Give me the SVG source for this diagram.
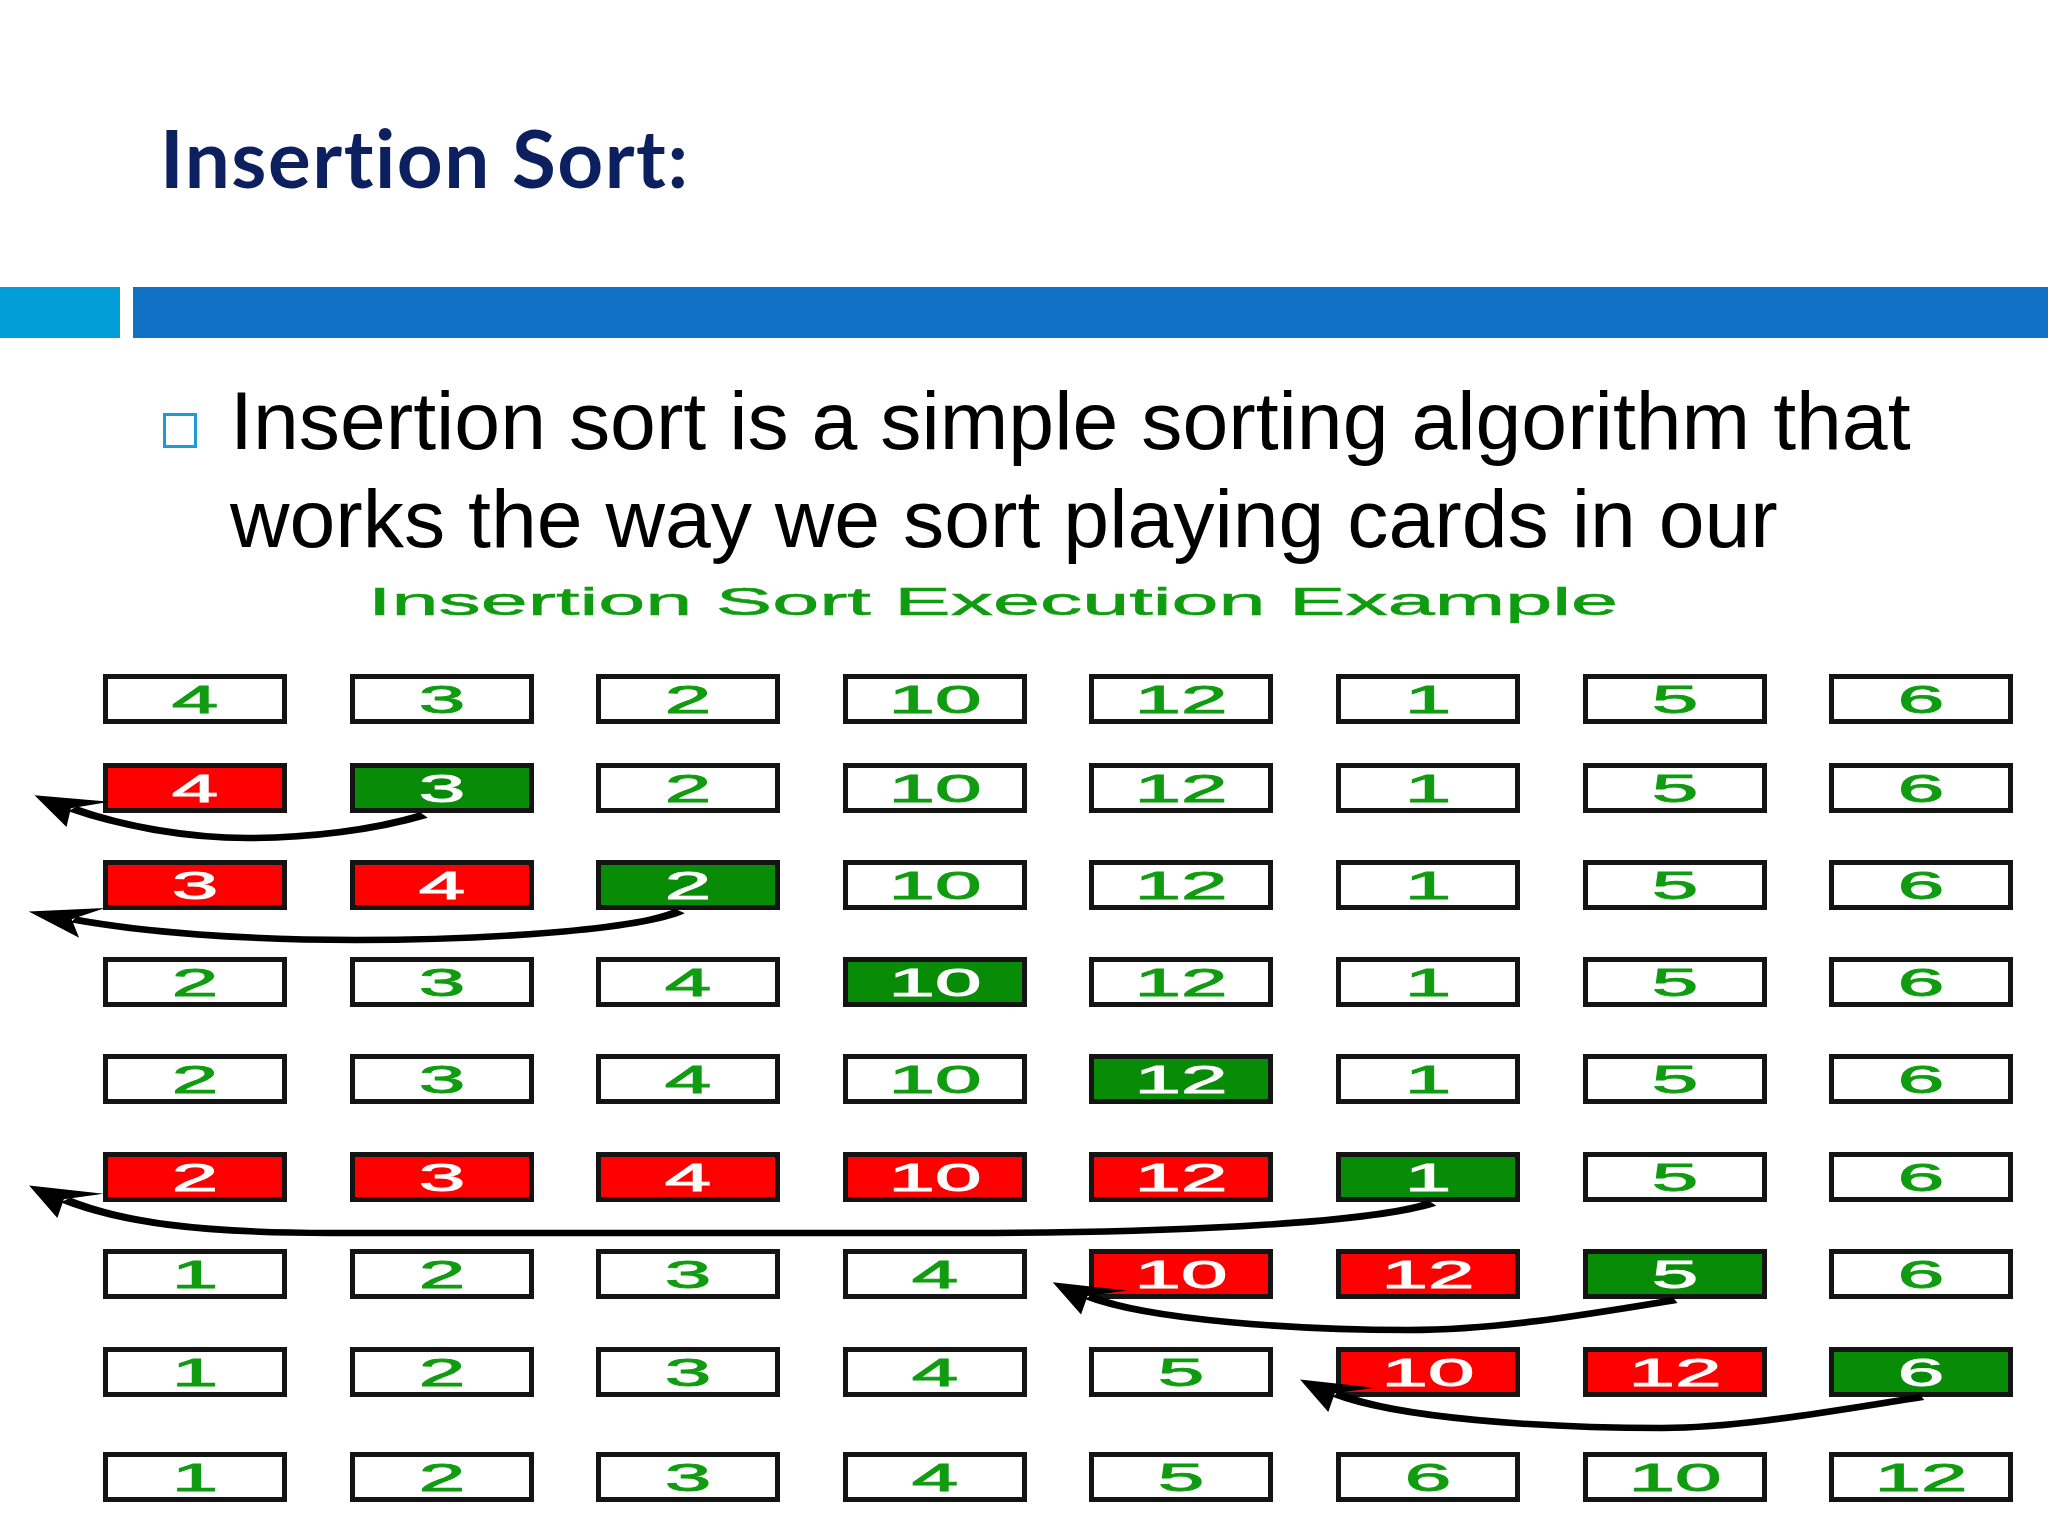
<svg xmlns="http://www.w3.org/2000/svg" width="2048" height="1536" viewBox="0 0 2048 1536">
<style>
.bx{stroke:#141414;stroke-width:5}
.wf{fill:#ffffff}
.rf{fill:#ff0000}
.gf{fill:#088c08}
.d{font-family:"Liberation Sans",Arial,sans-serif;font-size:38px;text-anchor:middle;stroke-width:0.9}
.gt{fill:#109c10;stroke:#109c10}
.wt{fill:#ffffff;stroke:#ffffff}
.arr{fill:none;stroke:#000;stroke-width:6.5}
</style>
<defs>
<marker id="ah" markerUnits="userSpaceOnUse" orient="auto" markerWidth="44" markerHeight="44" refX="0" refY="0" viewBox="-14 -22 44 44" overflow="visible">
<path d="M22,0 L-9,-16 L1,0 L-9,16 Z" fill="#000"/>
</marker>
</defs>
<rect width="2048" height="1536" fill="#ffffff"/>
<g id="title">
<text x="160" y="188" font-family="Lato,'Open Sans',sans-serif" font-weight="bold" font-size="80" fill="#0c1f5e" style="font-variant-ligatures:none" textLength="528" lengthAdjust="spacing">Insertion Sort:</text>
</g>
<g id="bars">
<rect x="0" y="287" width="120" height="51" fill="#009dd9"/>
<rect x="133" y="287" width="1915" height="51" fill="#1070c4"/>
</g>
<g id="bullet">
<rect x="164.5" y="414.5" width="31" height="32" fill="none" stroke="#1e9bd7" stroke-width="3"/>
<text x="230" y="449" font-family="'Liberation Sans',Arial,sans-serif" font-size="82.4" fill="#000">Insertion sort is a simple sorting algorithm that</text>
<text x="230" y="547" font-family="'Liberation Sans',Arial,sans-serif" font-size="82.4" fill="#000">works the way we sort playing cards in our</text>
</g>
<g id="subtitle">
<text x="368" y="615" font-family="'Liberation Sans',Arial,sans-serif" font-size="38" fill="#109c10" stroke="#109c10" stroke-width="0.5" textLength="1250" lengthAdjust="spacingAndGlyphs">Insertion Sort Execution Example</text>
</g>
<g id="nodes">
<!-- row 1 -->
<g id="r1c1"><rect class="bx wf" x="105.5" y="676.5" width="179" height="45"/><text class="d gt" transform="matrix(2.2 0 0 1 195 712.5)">4</text></g>
<g id="r1c2"><rect class="bx wf" x="352.5" y="676.5" width="179" height="45"/><text class="d gt" transform="matrix(2.2 0 0 1 442 712.5)">3</text></g>
<g id="r1c3"><rect class="bx wf" x="598.5" y="676.5" width="179" height="45"/><text class="d gt" transform="matrix(2.2 0 0 1 688 712.5)">2</text></g>
<g id="r1c4"><rect class="bx wf" x="845.5" y="676.5" width="179" height="45"/><text class="d gt" transform="matrix(2.2 0 0 1 935 712.5)">10</text></g>
<g id="r1c5"><rect class="bx wf" x="1091.5" y="676.5" width="179" height="45"/><text class="d gt" transform="matrix(2.2 0 0 1 1181 712.5)">12</text></g>
<g id="r1c6"><rect class="bx wf" x="1338.5" y="676.5" width="179" height="45"/><text class="d gt" transform="matrix(2.2 0 0 1 1428 712.5)">1</text></g>
<g id="r1c7"><rect class="bx wf" x="1585.5" y="676.5" width="179" height="45"/><text class="d gt" transform="matrix(2.2 0 0 1 1675 712.5)">5</text></g>
<g id="r1c8"><rect class="bx wf" x="1831.5" y="676.5" width="179" height="45"/><text class="d gt" transform="matrix(2.2 0 0 1 1921 712.5)">6</text></g>
<!-- row 2 -->
<g id="r2c1"><rect class="bx rf" x="105.5" y="765.5" width="179" height="45"/><text class="d wt" transform="matrix(2.2 0 0 1 195 801.5)">4</text></g>
<g id="r2c2"><rect class="bx gf" x="352.5" y="765.5" width="179" height="45"/><text class="d wt" transform="matrix(2.2 0 0 1 442 801.5)">3</text></g>
<g id="r2c3"><rect class="bx wf" x="598.5" y="765.5" width="179" height="45"/><text class="d gt" transform="matrix(2.2 0 0 1 688 801.5)">2</text></g>
<g id="r2c4"><rect class="bx wf" x="845.5" y="765.5" width="179" height="45"/><text class="d gt" transform="matrix(2.2 0 0 1 935 801.5)">10</text></g>
<g id="r2c5"><rect class="bx wf" x="1091.5" y="765.5" width="179" height="45"/><text class="d gt" transform="matrix(2.2 0 0 1 1181 801.5)">12</text></g>
<g id="r2c6"><rect class="bx wf" x="1338.5" y="765.5" width="179" height="45"/><text class="d gt" transform="matrix(2.2 0 0 1 1428 801.5)">1</text></g>
<g id="r2c7"><rect class="bx wf" x="1585.5" y="765.5" width="179" height="45"/><text class="d gt" transform="matrix(2.2 0 0 1 1675 801.5)">5</text></g>
<g id="r2c8"><rect class="bx wf" x="1831.5" y="765.5" width="179" height="45"/><text class="d gt" transform="matrix(2.2 0 0 1 1921 801.5)">6</text></g>
<!-- row 3 -->
<g id="r3c1"><rect class="bx rf" x="105.5" y="862.5" width="179" height="45"/><text class="d wt" transform="matrix(2.2 0 0 1 195 898.5)">3</text></g>
<g id="r3c2"><rect class="bx rf" x="352.5" y="862.5" width="179" height="45"/><text class="d wt" transform="matrix(2.2 0 0 1 442 898.5)">4</text></g>
<g id="r3c3"><rect class="bx gf" x="598.5" y="862.5" width="179" height="45"/><text class="d wt" transform="matrix(2.2 0 0 1 688 898.5)">2</text></g>
<g id="r3c4"><rect class="bx wf" x="845.5" y="862.5" width="179" height="45"/><text class="d gt" transform="matrix(2.2 0 0 1 935 898.5)">10</text></g>
<g id="r3c5"><rect class="bx wf" x="1091.5" y="862.5" width="179" height="45"/><text class="d gt" transform="matrix(2.2 0 0 1 1181 898.5)">12</text></g>
<g id="r3c6"><rect class="bx wf" x="1338.5" y="862.5" width="179" height="45"/><text class="d gt" transform="matrix(2.2 0 0 1 1428 898.5)">1</text></g>
<g id="r3c7"><rect class="bx wf" x="1585.5" y="862.5" width="179" height="45"/><text class="d gt" transform="matrix(2.2 0 0 1 1675 898.5)">5</text></g>
<g id="r3c8"><rect class="bx wf" x="1831.5" y="862.5" width="179" height="45"/><text class="d gt" transform="matrix(2.2 0 0 1 1921 898.5)">6</text></g>
<!-- row 4 -->
<g id="r4c1"><rect class="bx wf" x="105.5" y="959.5" width="179" height="45"/><text class="d gt" transform="matrix(2.2 0 0 1 195 995.5)">2</text></g>
<g id="r4c2"><rect class="bx wf" x="352.5" y="959.5" width="179" height="45"/><text class="d gt" transform="matrix(2.2 0 0 1 442 995.5)">3</text></g>
<g id="r4c3"><rect class="bx wf" x="598.5" y="959.5" width="179" height="45"/><text class="d gt" transform="matrix(2.2 0 0 1 688 995.5)">4</text></g>
<g id="r4c4"><rect class="bx gf" x="845.5" y="959.5" width="179" height="45"/><text class="d wt" transform="matrix(2.2 0 0 1 935 995.5)">10</text></g>
<g id="r4c5"><rect class="bx wf" x="1091.5" y="959.5" width="179" height="45"/><text class="d gt" transform="matrix(2.2 0 0 1 1181 995.5)">12</text></g>
<g id="r4c6"><rect class="bx wf" x="1338.5" y="959.5" width="179" height="45"/><text class="d gt" transform="matrix(2.2 0 0 1 1428 995.5)">1</text></g>
<g id="r4c7"><rect class="bx wf" x="1585.5" y="959.5" width="179" height="45"/><text class="d gt" transform="matrix(2.2 0 0 1 1675 995.5)">5</text></g>
<g id="r4c8"><rect class="bx wf" x="1831.5" y="959.5" width="179" height="45"/><text class="d gt" transform="matrix(2.2 0 0 1 1921 995.5)">6</text></g>
<!-- row 5 -->
<g id="r5c1"><rect class="bx wf" x="105.5" y="1056.5" width="179" height="45"/><text class="d gt" transform="matrix(2.2 0 0 1 195 1092.5)">2</text></g>
<g id="r5c2"><rect class="bx wf" x="352.5" y="1056.5" width="179" height="45"/><text class="d gt" transform="matrix(2.2 0 0 1 442 1092.5)">3</text></g>
<g id="r5c3"><rect class="bx wf" x="598.5" y="1056.5" width="179" height="45"/><text class="d gt" transform="matrix(2.2 0 0 1 688 1092.5)">4</text></g>
<g id="r5c4"><rect class="bx wf" x="845.5" y="1056.5" width="179" height="45"/><text class="d gt" transform="matrix(2.2 0 0 1 935 1092.5)">10</text></g>
<g id="r5c5"><rect class="bx gf" x="1091.5" y="1056.5" width="179" height="45"/><text class="d wt" transform="matrix(2.2 0 0 1 1181 1092.5)">12</text></g>
<g id="r5c6"><rect class="bx wf" x="1338.5" y="1056.5" width="179" height="45"/><text class="d gt" transform="matrix(2.2 0 0 1 1428 1092.5)">1</text></g>
<g id="r5c7"><rect class="bx wf" x="1585.5" y="1056.5" width="179" height="45"/><text class="d gt" transform="matrix(2.2 0 0 1 1675 1092.5)">5</text></g>
<g id="r5c8"><rect class="bx wf" x="1831.5" y="1056.5" width="179" height="45"/><text class="d gt" transform="matrix(2.2 0 0 1 1921 1092.5)">6</text></g>
<!-- row 6 -->
<g id="r6c1"><rect class="bx rf" x="105.5" y="1154.5" width="179" height="45"/><text class="d wt" transform="matrix(2.2 0 0 1 195 1190.5)">2</text></g>
<g id="r6c2"><rect class="bx rf" x="352.5" y="1154.5" width="179" height="45"/><text class="d wt" transform="matrix(2.2 0 0 1 442 1190.5)">3</text></g>
<g id="r6c3"><rect class="bx rf" x="598.5" y="1154.5" width="179" height="45"/><text class="d wt" transform="matrix(2.2 0 0 1 688 1190.5)">4</text></g>
<g id="r6c4"><rect class="bx rf" x="845.5" y="1154.5" width="179" height="45"/><text class="d wt" transform="matrix(2.2 0 0 1 935 1190.5)">10</text></g>
<g id="r6c5"><rect class="bx rf" x="1091.5" y="1154.5" width="179" height="45"/><text class="d wt" transform="matrix(2.2 0 0 1 1181 1190.5)">12</text></g>
<g id="r6c6"><rect class="bx gf" x="1338.5" y="1154.5" width="179" height="45"/><text class="d wt" transform="matrix(2.2 0 0 1 1428 1190.5)">1</text></g>
<g id="r6c7"><rect class="bx wf" x="1585.5" y="1154.5" width="179" height="45"/><text class="d gt" transform="matrix(2.2 0 0 1 1675 1190.5)">5</text></g>
<g id="r6c8"><rect class="bx wf" x="1831.5" y="1154.5" width="179" height="45"/><text class="d gt" transform="matrix(2.2 0 0 1 1921 1190.5)">6</text></g>
<!-- row 7 -->
<g id="r7c1"><rect class="bx wf" x="105.5" y="1251.5" width="179" height="45"/><text class="d gt" transform="matrix(2.2 0 0 1 195 1287.5)">1</text></g>
<g id="r7c2"><rect class="bx wf" x="352.5" y="1251.5" width="179" height="45"/><text class="d gt" transform="matrix(2.2 0 0 1 442 1287.5)">2</text></g>
<g id="r7c3"><rect class="bx wf" x="598.5" y="1251.5" width="179" height="45"/><text class="d gt" transform="matrix(2.2 0 0 1 688 1287.5)">3</text></g>
<g id="r7c4"><rect class="bx wf" x="845.5" y="1251.5" width="179" height="45"/><text class="d gt" transform="matrix(2.2 0 0 1 935 1287.5)">4</text></g>
<g id="r7c5"><rect class="bx rf" x="1091.5" y="1251.5" width="179" height="45"/><text class="d wt" transform="matrix(2.2 0 0 1 1181 1287.5)">10</text></g>
<g id="r7c6"><rect class="bx rf" x="1338.5" y="1251.5" width="179" height="45"/><text class="d wt" transform="matrix(2.2 0 0 1 1428 1287.5)">12</text></g>
<g id="r7c7"><rect class="bx gf" x="1585.5" y="1251.5" width="179" height="45"/><text class="d wt" transform="matrix(2.2 0 0 1 1675 1287.5)">5</text></g>
<g id="r7c8"><rect class="bx wf" x="1831.5" y="1251.5" width="179" height="45"/><text class="d gt" transform="matrix(2.2 0 0 1 1921 1287.5)">6</text></g>
<!-- row 8 -->
<g id="r8c1"><rect class="bx wf" x="105.5" y="1349.5" width="179" height="45"/><text class="d gt" transform="matrix(2.2 0 0 1 195 1385.5)">1</text></g>
<g id="r8c2"><rect class="bx wf" x="352.5" y="1349.5" width="179" height="45"/><text class="d gt" transform="matrix(2.2 0 0 1 442 1385.5)">2</text></g>
<g id="r8c3"><rect class="bx wf" x="598.5" y="1349.5" width="179" height="45"/><text class="d gt" transform="matrix(2.2 0 0 1 688 1385.5)">3</text></g>
<g id="r8c4"><rect class="bx wf" x="845.5" y="1349.5" width="179" height="45"/><text class="d gt" transform="matrix(2.2 0 0 1 935 1385.5)">4</text></g>
<g id="r8c5"><rect class="bx wf" x="1091.5" y="1349.5" width="179" height="45"/><text class="d gt" transform="matrix(2.2 0 0 1 1181 1385.5)">5</text></g>
<g id="r8c6"><rect class="bx rf" x="1338.5" y="1349.5" width="179" height="45"/><text class="d wt" transform="matrix(2.2 0 0 1 1428 1385.5)">10</text></g>
<g id="r8c7"><rect class="bx rf" x="1585.5" y="1349.5" width="179" height="45"/><text class="d wt" transform="matrix(2.2 0 0 1 1675 1385.5)">12</text></g>
<g id="r8c8"><rect class="bx gf" x="1831.5" y="1349.5" width="179" height="45"/><text class="d wt" transform="matrix(2.2 0 0 1 1921 1385.5)">6</text></g>
<!-- row 9 -->
<g id="r9c1"><rect class="bx wf" x="105.5" y="1454.5" width="179" height="45"/><text class="d gt" transform="matrix(2.2 0 0 1 195 1490.5)">1</text></g>
<g id="r9c2"><rect class="bx wf" x="352.5" y="1454.5" width="179" height="45"/><text class="d gt" transform="matrix(2.2 0 0 1 442 1490.5)">2</text></g>
<g id="r9c3"><rect class="bx wf" x="598.5" y="1454.5" width="179" height="45"/><text class="d gt" transform="matrix(2.2 0 0 1 688 1490.5)">3</text></g>
<g id="r9c4"><rect class="bx wf" x="845.5" y="1454.5" width="179" height="45"/><text class="d gt" transform="matrix(2.2 0 0 1 935 1490.5)">4</text></g>
<g id="r9c5"><rect class="bx wf" x="1091.5" y="1454.5" width="179" height="45"/><text class="d gt" transform="matrix(2.2 0 0 1 1181 1490.5)">5</text></g>
<g id="r9c6"><rect class="bx wf" x="1338.5" y="1454.5" width="179" height="45"/><text class="d gt" transform="matrix(2.2 0 0 1 1428 1490.5)">6</text></g>
<g id="r9c7"><rect class="bx wf" x="1585.5" y="1454.5" width="179" height="45"/><text class="d gt" transform="matrix(2.2 0 0 1 1675 1490.5)">10</text></g>
<g id="r9c8"><rect class="bx wf" x="1831.5" y="1454.5" width="179" height="45"/><text class="d gt" transform="matrix(2.2 0 0 1 1921 1490.5)">12</text></g>
</g>
<g id="connectors" transform="scale(2.2,1)">
<path class="arr" marker-end="url(#ah)" d="M192.7,815 C170,830 140,838 112.7,838 C85,838 55,826 33,808.8"/>
<path class="arr" marker-end="url(#ah)" d="M309,911 C290,930 220,940 162,940 C110,940 65,932 33.5,919.5"/>
<path class="arr" marker-end="url(#ah)" d="M651,1203 C620,1225 520,1233 440,1233 L150,1233 C90,1233 55,1222 29.8,1200"/>
<path class="arr" marker-end="url(#ah)" d="M761.4,1300 C720,1315 680,1330 640,1330 C590,1330 522,1320 495.1,1296.6"/>
<path class="arr" marker-end="url(#ah)" d="M873.6,1397 C830,1412 790,1428 755.5,1428 C700,1428 635,1418 607.5,1394"/>
</g>
</svg>
